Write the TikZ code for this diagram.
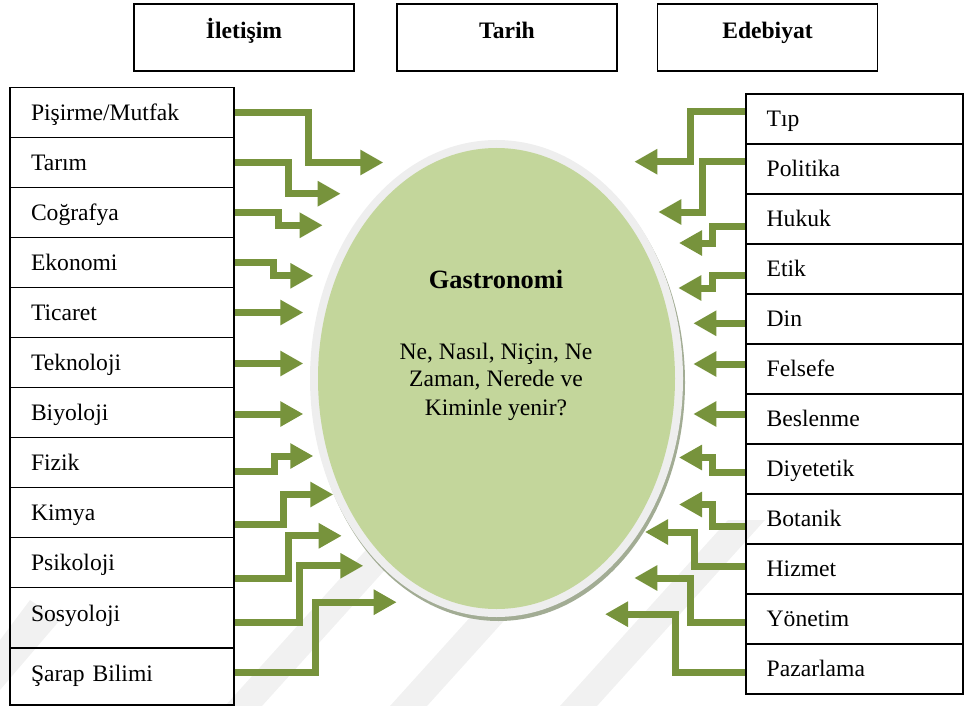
\documentclass[tikz,border=0pt]{standalone}
\usepackage{fontspec}
\setmainfont{Liberation Serif}
\usetikzlibrary{arrows.meta,shapes.geometric}
\definecolor{arrgreen}{HTML}{77933C}
\definecolor{ellgreen}{HTML}{C3D69B}
\definecolor{rimgray}{HTML}{EEEEEE}
\definecolor{shadowgreen}{HTML}{A2AC94}
\definecolor{wmgray}{HTML}{F1F1F1}
\begin{document}
\begin{tikzpicture}[x=1pt,y=-1pt,
  rowbox/.style={draw=black, line width=1.6pt, rectangle, inner xsep=21pt, inner ysep=0pt,
    text width=182pt, align=left, minimum height=50pt,
    font=\fontsize{23.6}{28}\selectfont, text height=15.5pt, text depth=0pt},
  rrowbox/.style={rowbox, text width=175.6pt, inner xsep=20.7pt},
  topbox/.style={draw=black, line width=1.6pt, rectangle, minimum width=220pt, minimum height=67pt,
    inner sep=0pt, font=\bfseries\fontsize{23.6}{28}\selectfont, text height=15.5pt, text depth=14pt},
  qtext/.style={font=\fontsize{23.6}{28}\selectfont, anchor=base, inner sep=0pt},
  flow/.style={draw=arrgreen, line width=7pt, line join=miter, line cap=butt,
    -{Triangle[length=23pt,width=24pt]}}
]
\useasboundingbox (0,0) rectangle (964,706);

% faint watermark bands
\begin{scope}
\clip (0,470) rectangle (964,706);
\fill[wmgray] (225,706) -- (262,706) -- (430,520) -- (393,520) -- cycle;
\fill[wmgray] (390,706) -- (427,706) -- (595,520) -- (558,520) -- cycle;
\fill[wmgray] (560,706) -- (597,706) -- (765,520) -- (728,520) -- cycle;
\fill[wmgray] (0,640) -- (0,690) -- (60,620) -- (30,600) -- cycle;
\end{scope}

% ellipse
\fill[shadowgreen] (498.5,382.5) ellipse [x radius=186.5pt, y radius=238.5pt];
\fill[rimgray] (496.5,378.5) ellipse [x radius=186.5pt, y radius=238.5pt];
\node (G) [ellipse, fill=ellgreen, minimum width=357pt, minimum height=461pt, inner sep=0pt, outer sep=0pt] at (496.5,378.5) {};
\node (gt) [font=\bfseries\fontsize{26.4}{30}\selectfont, anchor=base, inner sep=0pt] at (496,288) {Gastronomi};
\node (q1) [qtext] at (496,359.3) {Ne, Nasıl, Niçin, Ne};
\node (q2) [qtext] at (496,386.7) {Zaman, Nerede ve};
\node (q3) [qtext] at (496,415) {Kiminle yenir?};

% top boxes
\node (T1) [topbox] at (244,37.5) {İletişim};
\node (T2) [topbox] at (507,37.5) {Tarih};
\node (T3) [topbox] at (767.5,37.5) {Edebiyat};

% left column
\node (L1) [rowbox] at (122,112.5) {Pişirme/Mutfak};
\node (L2) [rowbox] at (122,162.5) {Tarım};
\node (L3) [rowbox] at (122,212.5) {Coğrafya};
\node (L4) [rowbox] at (122,262.5) {Ekonomi};
\node (L5) [rowbox] at (122,312.5) {Ticaret};
\node (L6) [rowbox] at (122,362.5) {Teknoloji};
\node (L7) [rowbox] at (122,412.5) {Biyoloji};
\node (L8) [rowbox] at (122,462.5) {Fizik};
\node (L9) [rowbox] at (122,512.5) {Kimya};
\node (L10) [rowbox] at (122,562.5) {Psikoloji};
\node (L11) [rowbox, minimum height=60.5pt, text depth=7.5pt] at (122,617.75) {Sosyoloji};
\node (L12) [rowbox, minimum height=57pt, text depth=4.8pt] at (122,676.5) {Şarap Bilimi};

% right column
\node (R1) [rrowbox] at (854.5,119) {Tıp};
\node (R2) [rrowbox] at (854.5,169) {Politika};
\node (R3) [rrowbox] at (854.5,219) {Hukuk};
\node (R4) [rrowbox] at (854.5,269) {Etik};
\node (R5) [rrowbox] at (854.5,319) {Din};
\node (R6) [rrowbox] at (854.5,369) {Felsefe};
\node (R7) [rrowbox] at (854.5,419) {Beslenme};
\node (R8) [rrowbox] at (854.5,469) {Diyetetik};
\node (R9) [rrowbox] at (854.5,519) {Botanik};
\node (R10) [rrowbox] at (854.5,569) {Hizmet};
\node (R11) [rrowbox] at (854.5,619) {Yönetim};
\node (R12) [rrowbox] at (854.5,669) {Pazarlama};

% left arrow bends and tips
\coordinate (bL1) at (308.7,162.5);  \coordinate (tL1) at (383.3,162.5);
\coordinate (bL2) at (288.3,193.7);  \coordinate (tL2) at (340.7,193.7);
\coordinate (bL3) at (278.7,225.3);  \coordinate (tL3) at (322.7,225.3);
\coordinate (bL4) at (273.8,275.8);  \coordinate (tL4) at (313.3,275.8);
\coordinate (tL5) at (303.3,312.5);
\coordinate (tL6) at (303.3,363.5);
\coordinate (tL7) at (303.3,414);
\coordinate (bL8) at (274,456);      \coordinate (tL8) at (313.3,456);
\coordinate (bL9) at (283,494.5);    \coordinate (tL9) at (333.3,494.5);
\coordinate (bL10) at (288.7,535.8); \coordinate (tL10) at (341.7,535.8);
\coordinate (bL11) at (299.7,565.8); \coordinate (tL11) at (363.3,565.8);
\coordinate (bL12) at (315.3,602.2); \coordinate (tL12) at (396.7,602.2);

\draw[flow] (L1.east) -| (bL1) -- (tL1);
\draw[flow] (L2.east) -| (bL2) -- (tL2);
\draw[flow] (L3.east) -| (bL3) -- (tL3);
\draw[flow] (L4.east) -| (bL4) -- (tL4);
\draw[flow] (L5.east) -- (tL5);
\draw[flow] ([yshift=-1pt]L6.east) -- (tL6);
\draw[flow] ([yshift=-1.5pt]L7.east) -- (tL7);
\draw[flow] ([yshift=-8.5pt]L8.east) -| (bL8) -- (tL8);
\draw[flow] ([yshift=-12.2pt]L9.east) -| (bL9) -- (tL9);
\draw[flow] ([yshift=-15.5pt]L10.east) -| (bL10) -- (tL10);
\draw[flow] ([yshift=-4.75pt]L11.east) -| (bL11) -- (tL11);
\draw[flow] ([yshift=3.8pt]L12.east) -| (bL12) -- (tL12);

% right arrow bends and tips
\coordinate (bR1) at (690.3,161.7);  \coordinate (tR1) at (634.3,161.7);
\coordinate (bR2) at (702,212);      \coordinate (tR2) at (658.3,212);
\coordinate (bR3) at (712.5,243);    \coordinate (tR3) at (679,243);
\coordinate (bR4) at (712,288);      \coordinate (tR4) at (678.3,288);
\coordinate (tR5) at (693.3,323.3);
\coordinate (tR6) at (693.3,364);
\coordinate (tR7) at (693.3,414);
\coordinate (bR8) at (712.8,457.5);  \coordinate (tR8) at (679,457.5);
\coordinate (bR9) at (712,504.5);    \coordinate (tR9) at (679,504.5);
\coordinate (bR10) at (694.7,532);   \coordinate (tR10) at (645,532);
\coordinate (bR11) at (690.3,578);   \coordinate (tR11) at (634.3,578);
\coordinate (bR12) at (675.3,614.2); \coordinate (tR12) at (605,614.2);

\draw[flow] ([yshift=7pt]R1.west) -| (bR1) -- (tR1);
\draw[flow] ([yshift=7pt]R2.west) -| (bR2) -- (tR2);
\draw[flow] ([yshift=-7pt]R3.west) -| (bR3) -- (tR3);
\draw[flow] ([yshift=-6.8pt]R4.west) -| (bR4) -- (tR4);
\draw[flow] ([yshift=-4.3pt]R5.west) -- (tR5);
\draw[flow] ([yshift=5pt]R6.west) -- (tR6);
\draw[flow] ([yshift=5pt]R7.west) -- (tR7);
\draw[flow] ([yshift=-3.5pt]R8.west) -| (bR8) -- (tR8);
\draw[flow] ([yshift=-7.3pt]R9.west) -| (bR9) -- (tR9);
\draw[flow] ([yshift=2.3pt]R10.west) -| (bR10) -- (tR10);
\draw[flow] ([yshift=-3.7pt]R11.west) -| (bR11) -- (tR11);
\draw[flow] ([yshift=-3pt]R12.west) -| (bR12) -- (tR12);
\end{tikzpicture}
\end{document}
